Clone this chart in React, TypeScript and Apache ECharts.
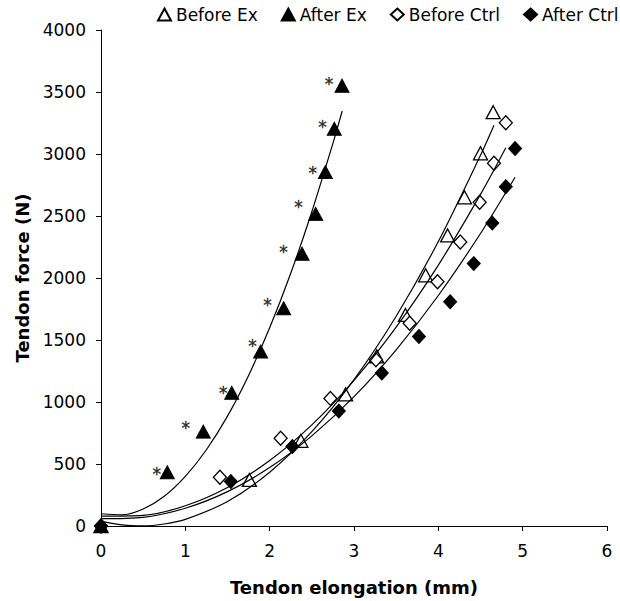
import React, { useEffect, useRef } from "react";
import * as echarts from "echarts";

// Measured data points (elongation mm, force N)
const beforeEx: [number, number][] = [[0,0],[1.76,371],[2.37,687],[2.90,1061],[3.27,1368],[3.61,1702],[3.85,2022],[4.11,2343],[4.31,2651],[4.50,3006],[4.65,3337]];
const afterEx: [number, number][] = [[0,0],[0.786,433],[1.213,761],[1.55,1074],[1.893,1407],[2.166,1756],[2.384,2196],[2.546,2517],[2.66,2855],[2.766,3204],[2.858,3551]];
const beforeCtrl: [number, number][] = [[0,0],[1.41,393],[2.13,708],[2.72,1029],[3.26,1341],[3.66,1635],[3.99,1970],[4.26,2290],[4.49,2611],[4.66,2926],[4.80,3252]];
const afterCtrl: [number, number][] = [[0,0],[1.54,358],[2.27,641],[2.82,927],[3.33,1234],[3.77,1529],[4.14,1809],[4.42,2116],[4.64,2443],[4.80,2736],[4.91,3044]];

// Significance markers (*) positions
const starPts: [number, number][] = [[0.66,454],[1.004,820],[1.451,1106],[1.795,1483],[1.973,1817],[2.163,2245],[2.341,2605],[2.51,2883],[2.625,3246],[2.705,3594]];

// Trend curves
const afterExFitX = [0,0.25,0.5,0.75,1,1.25,1.5,1.75,2,2.25,2.5,2.75,2.86];
const afterExFitY = [99,90,137,240,400,615,886,1214,1598,2038,2534,3086,3347];
const beforeExFitX = [0,0.25,0.5,0.75,1,1.5,2,2.5,3,3.5,4,4.5,4.66];
const beforeExFitY = [40,9,1,16,53,198,434,761,1181,1692,2294,2989,3231];
const beforeCtrlFitX = [0,0.5,1,1.5,2,2.5,3,3.5,4,4.5,4.8];
const beforeCtrlFitY = [80,86,163,310,528,816,1175,1604,2104,2674,3050];
const afterCtrlFitX = [0,0.5,1,1.5,2,2.5,3,3.5,4,4.5,4.91];
const afterCtrlFitY = [59,70,143,277,471,727,1043,1421,1859,2359,2813];

const seriesNames = ["Before Ex", "After Ex", "Before Ctrl", "After Ctrl"];
const xAxisTitle = "Tendon elongation (mm)";
const yAxisTitle = "Tendon force (N)";

const FONT = "DejaVu Sans";

function zip(xs: number[], ys: number[]) {
  return xs.map((x, i) => [x, ys[i]]);
}

export default function App() {
  const ref = useRef<HTMLDivElement>(null);
  useEffect(() => {
    if (!ref.current) return;
    const chart = echarts.init(ref.current, null, { renderer: "svg" });
    const openStyle = { color: "#ffffff", borderColor: "#000000", borderWidth: 1.3, opacity: 1 };
    const fillStyle = { color: "#000000", borderColor: "#000000", borderWidth: 1, opacity: 1 };
    const fitLine = (name: string, data: number[][]) => ({
      name,
      type: "line",
      data,
      smooth: 0.3,
      showSymbol: false,
      symbol: "none",
      lineStyle: { color: "#000000", width: 1.2 },
      z: 5,
      silent: true,
    });
    chart.setOption({
      animation: false,
      backgroundColor: "#ffffff",
      grid: { left: 101, right: 13, top: 30, bottom: 72, containLabel: false },
      legend: {
        data: seriesNames,
        left: 157,
        top: 6,
        padding: 0,
        itemGap: 23,
        itemWidth: 13,
        itemHeight: 12,
        textStyle: { fontFamily: FONT, fontSize: 17, color: "#000000" },
      },
      xAxis: {
        type: "value",
        min: 0,
        max: 6,
        interval: 1,
        name: xAxisTitle,
        nameLocation: "middle",
        nameGap: 52,
        nameTextStyle: { fontFamily: FONT, fontSize: 18, fontWeight: "bold", color: "#000000" },
        axisLine: { onZero: false, lineStyle: { color: "#000000", width: 1 } },
        axisTick: { show: true, inside: false, length: 5, lineStyle: { color: "#000000" } },
        axisLabel: { fontFamily: FONT, fontSize: 17, color: "#000000", margin: 16 },
        splitLine: { show: false },
      },
      yAxis: {
        type: "value",
        min: 0,
        max: 4000,
        interval: 500,
        name: yAxisTitle,
        nameLocation: "middle",
        nameGap: 70,
        nameRotate: 90,
        nameTextStyle: { fontFamily: FONT, fontSize: 18, fontWeight: "bold", color: "#000000" },
        axisLine: { show: true, lineStyle: { color: "#000000", width: 1 } },
        axisTick: { show: true, inside: false, length: 5, lineStyle: { color: "#000000" } },
        axisLabel: {
          fontFamily: FONT,
          fontSize: 17,
          color: "#000000",
          margin: 15,
          formatter: (v: number) => String(v),
        },
        splitLine: { show: false },
      },
      series: [
        { name: seriesNames[0], type: "scatter", data: beforeEx, symbol: "triangle", symbolSize: [14, 13], itemStyle: openStyle, z: 3 },
        { name: seriesNames[1], type: "scatter", data: afterEx, symbol: "triangle", symbolSize: [14, 13], itemStyle: fillStyle, z: 3 },
        { name: seriesNames[2], type: "scatter", data: beforeCtrl, symbol: "diamond", symbolSize: [13, 14], itemStyle: openStyle, z: 3 },
        { name: seriesNames[3], type: "scatter", data: afterCtrl, symbol: "diamond", symbolSize: [13, 14], itemStyle: fillStyle, z: 3 },
        fitLine("fit Before Ex", zip(beforeExFitX, beforeExFitY)),
        fitLine("fit After Ex", zip(afterExFitX, afterExFitY)),
        fitLine("fit Before Ctrl", zip(beforeCtrlFitX, beforeCtrlFitY)),
        fitLine("fit After Ctrl", zip(afterCtrlFitX, afterCtrlFitY)),
        {
          name: "significance",
          type: "scatter",
          data: starPts,
          symbolSize: 1,
          itemStyle: { color: "rgba(255,255,255,0)", borderWidth: 0 },
          silent: true,
          label: {
            show: true,
            position: "inside",
            formatter: "*",
            fontFamily: FONT,
            fontSize: 17,
            color: "#000000",
            textBorderColor: "#000000",
            textBorderWidth: 0.4,
            offset: [0, 4],
          },
          z: 6,
        },
      ],
    });
    return () => chart.dispose();
  }, []);
  return (
    <div
      ref={ref}
      style={{ position: "absolute", left: 0, top: 0, width: 620, height: 601, background: "#fff" }}
    />
  );
}
